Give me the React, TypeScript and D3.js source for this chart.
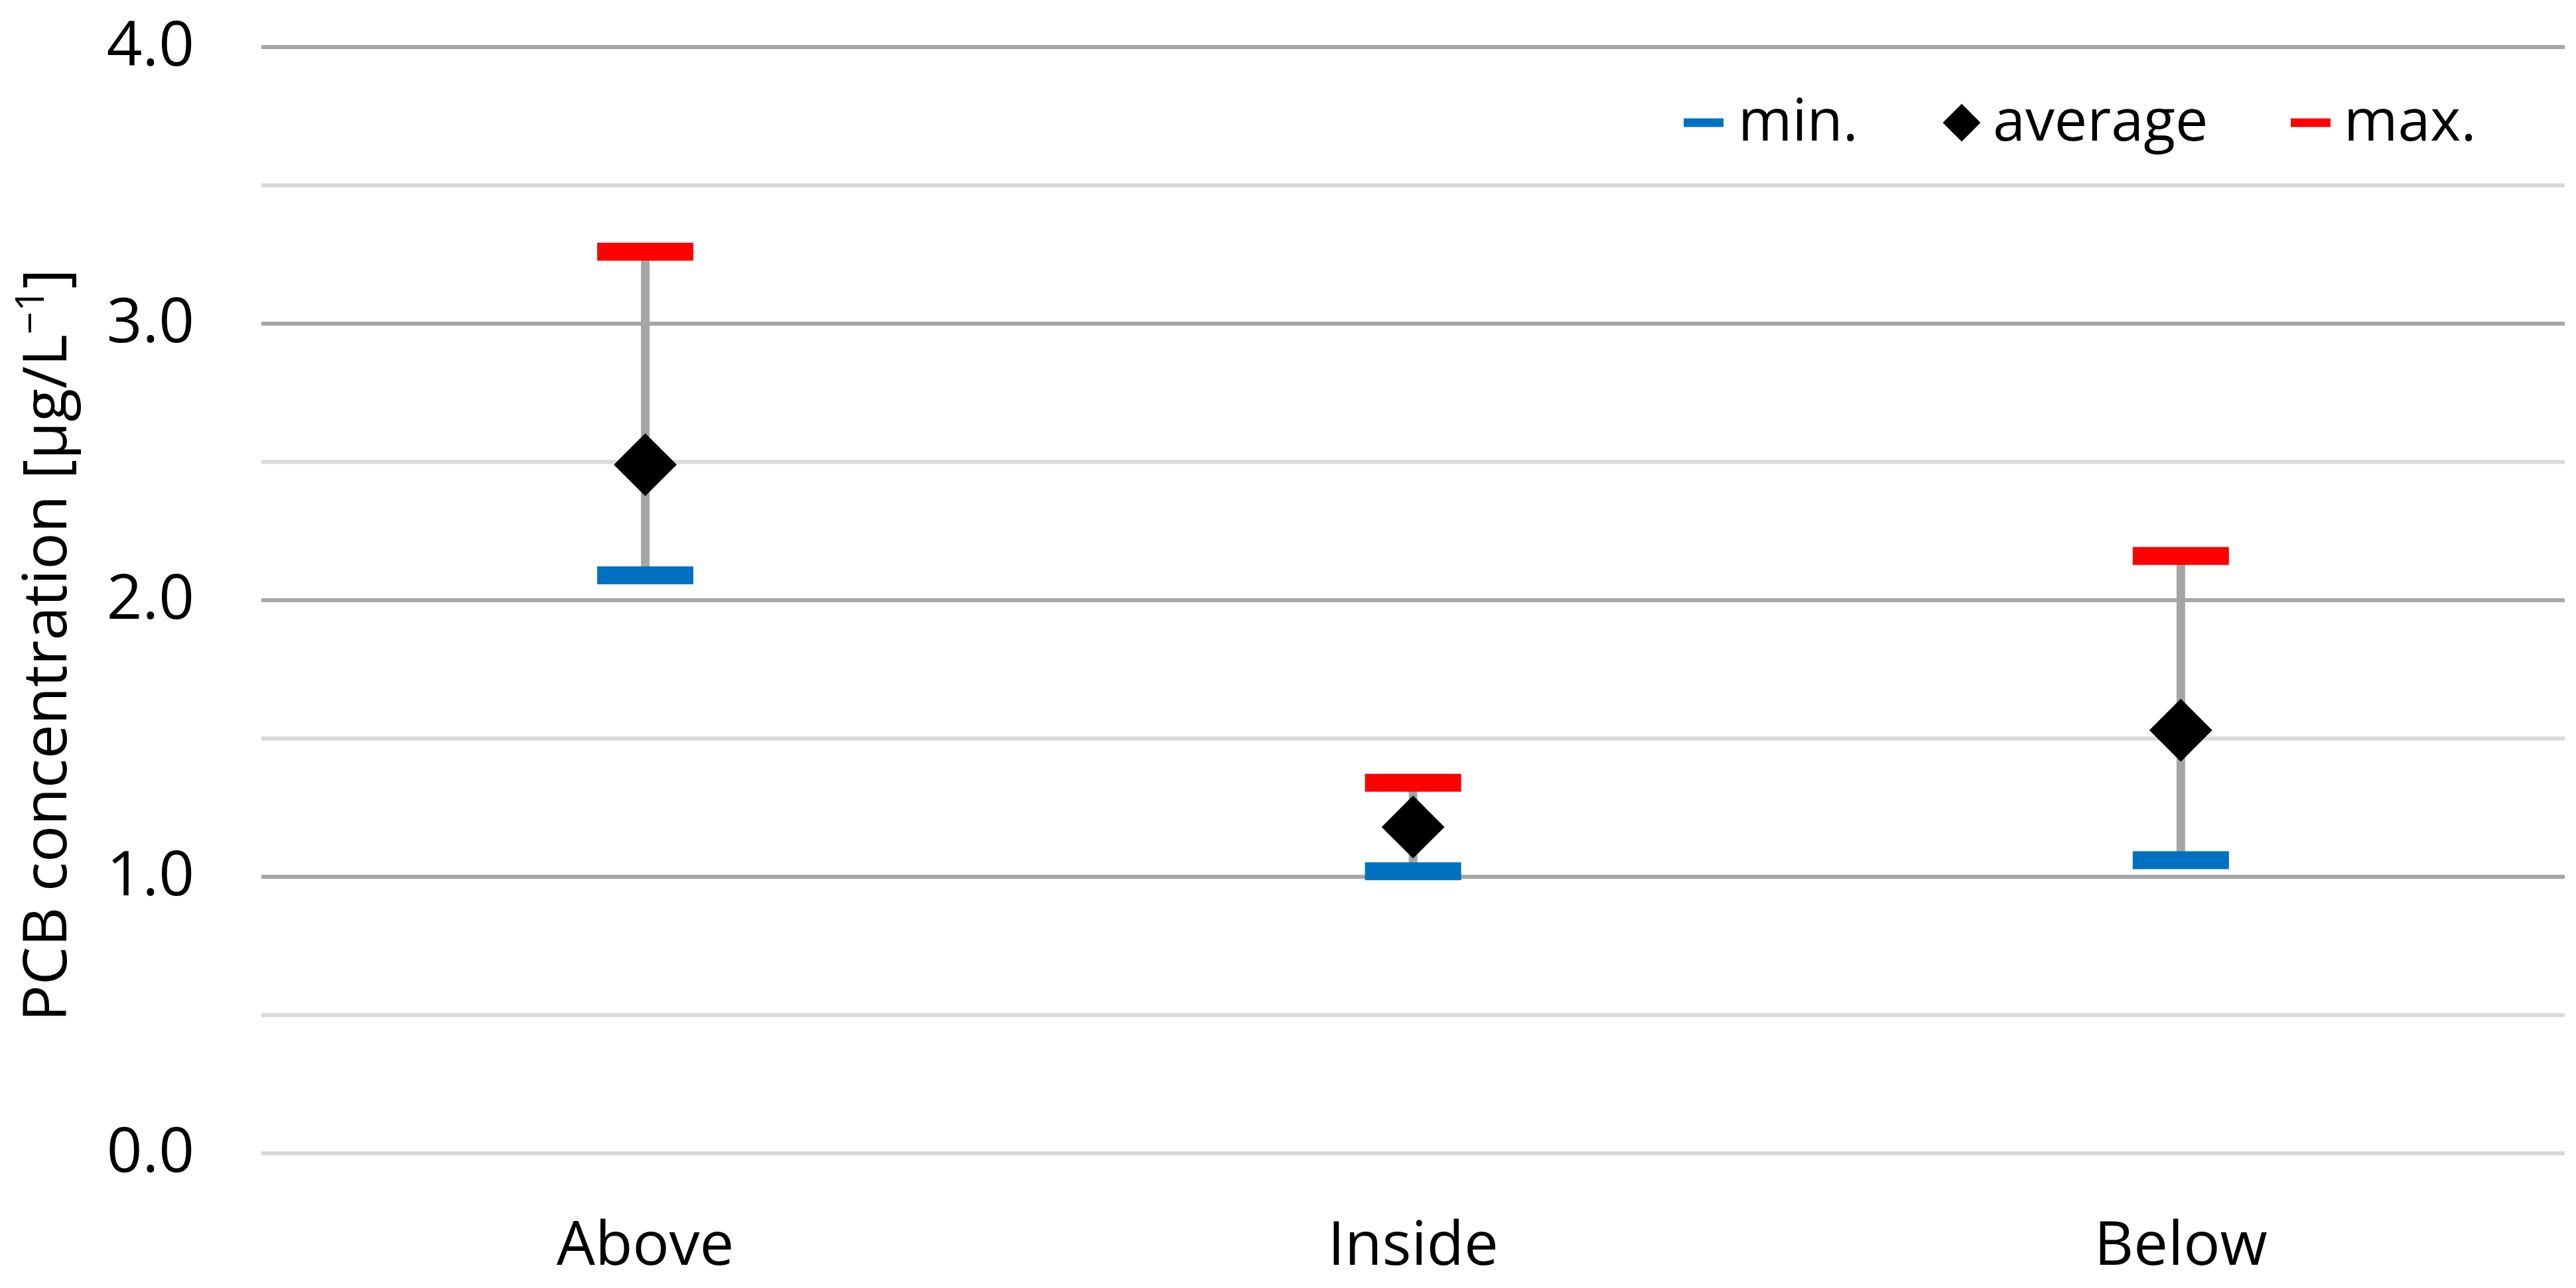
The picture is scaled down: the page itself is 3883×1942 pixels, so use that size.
import React from "react";
import * as d3 from "d3";

const categories = ["Above", "Inside", "Below"];
const minValues = [2.09, 1.02, 1.06];
const avgValues = [2.49, 1.18, 1.53];
const maxValues = [3.26, 1.34, 2.16];
const yTicks = [0, 1, 2, 3, 4];
const yMinorTicks = [0.5, 1.5, 2.5, 3.5];
const legendLabels = ["min.", "average", "max."];

const W = 3883;
const H = 1942;
const FONT = "'Open Sans', 'Noto Sans', sans-serif";

export default function App() {
  const x = d3.scaleBand<string>().domain(categories).range([394, 3866]).padding(0);
  const y = d3.scaleLinear().domain([0, 4]).range([1739, 71]);
  const cx = (c: string) => (x(c) as number) + x.bandwidth() / 2;

  const diamond = d3.symbol().type(d3.symbolSquare).size(4500)() as string;
  const diamondLegend = d3.symbol().type(d3.symbolSquare).size(1620)() as string;

  const capW = 145;
  const capH = 27;
  const [x0, x1] = x.range();

  return (
    <svg
      width={W}
      height={H}
      viewBox={`0 0 ${W} ${H}`}
      style={{ position: "absolute", left: 0, top: 0, background: "#fff" }}
      fontFamily={FONT}
    >
      <rect x={0} y={0} width={W} height={H} fill="#fff" />
      {/* minor gridlines */}
      {yMinorTicks.map((t) => (
        <line key={"m" + t} x1={x0} x2={x1} y1={y(t)} y2={y(t)} stroke="#d9d9d9" strokeWidth={6} />
      ))}
      {/* major gridlines */}
      {yTicks.map((t) => (
        <line
          key={"g" + t}
          x1={x0}
          x2={x1}
          y1={y(t)}
          y2={y(t)}
          stroke={t === 0 ? "#d9d9d9" : "#a6a6a6"}
          strokeWidth={6}
        />
      ))}
      {/* y tick labels */}
      {yTicks.map((t) => (
        <text key={"t" + t} x={293} y={y(t) + 28} textAnchor="end" fontSize={94} fill="#000">
          {t.toFixed(1)}
        </text>
      ))}
      {/* y axis title */}
      <text
        transform={`translate(100, 973) rotate(-90)`}
        textAnchor="middle"
        fontSize={92}
        fill="#000"
      >
        PCB concentration [μg/L
        <tspan dy={-34} fontSize={60}>−1</tspan>
        <tspan dy={34}>]</tspan>
      </text>
      {/* category labels */}
      {categories.map((c) => (
        <text key={"c" + c} x={cx(c)} y={1907} textAnchor="middle" fontSize={92} fill="#000">
          {c}
        </text>
      ))}
      {/* high-low stems */}
      {categories.map((c, i) => (
        <line
          key={"s" + c}
          x1={cx(c)}
          x2={cx(c)}
          y1={y(minValues[i])}
          y2={y(maxValues[i])}
          stroke="#a5a5a5"
          strokeWidth={13}
        />
      ))}
      {/* max caps */}
      {categories.map((c, i) => (
        <rect
          key={"mx" + c}
          x={cx(c) - capW / 2}
          y={y(maxValues[i]) - capH / 2}
          width={capW}
          height={capH}
          fill="#ff0000"
        />
      ))}
      {/* min caps */}
      {categories.map((c, i) => (
        <rect
          key={"mn" + c}
          x={cx(c) - capW / 2}
          y={y(minValues[i]) - capH / 2}
          width={capW}
          height={capH}
          fill="#0070c0"
        />
      ))}
      {/* averages */}
      {categories.map((c, i) => (
        <path
          key={"a" + c}
          d={diamond}
          transform={`translate(${cx(c)},${y(avgValues[i])}) rotate(45)`}
          fill="#000"
        />
      ))}
      {/* legend */}
      <g>
        <rect x={2538} y={185 - 6.5} width={60} height={13} fill="#0070c0" />
        <text x={2620} y={212} fontSize={88} fill="#000">{legendLabels[0]}</text>
        <path d={diamondLegend} transform="translate(2957,185) rotate(45)" fill="#000" />
        <text x={3004} y={212} fontSize={88} fill="#000">{legendLabels[1]}</text>
        <rect x={3453} y={185 - 6.5} width={60} height={13} fill="#ff0000" />
        <text x={3533} y={212} fontSize={88} fill="#000">{legendLabels[2]}</text>
      </g>
    </svg>
  );
}
